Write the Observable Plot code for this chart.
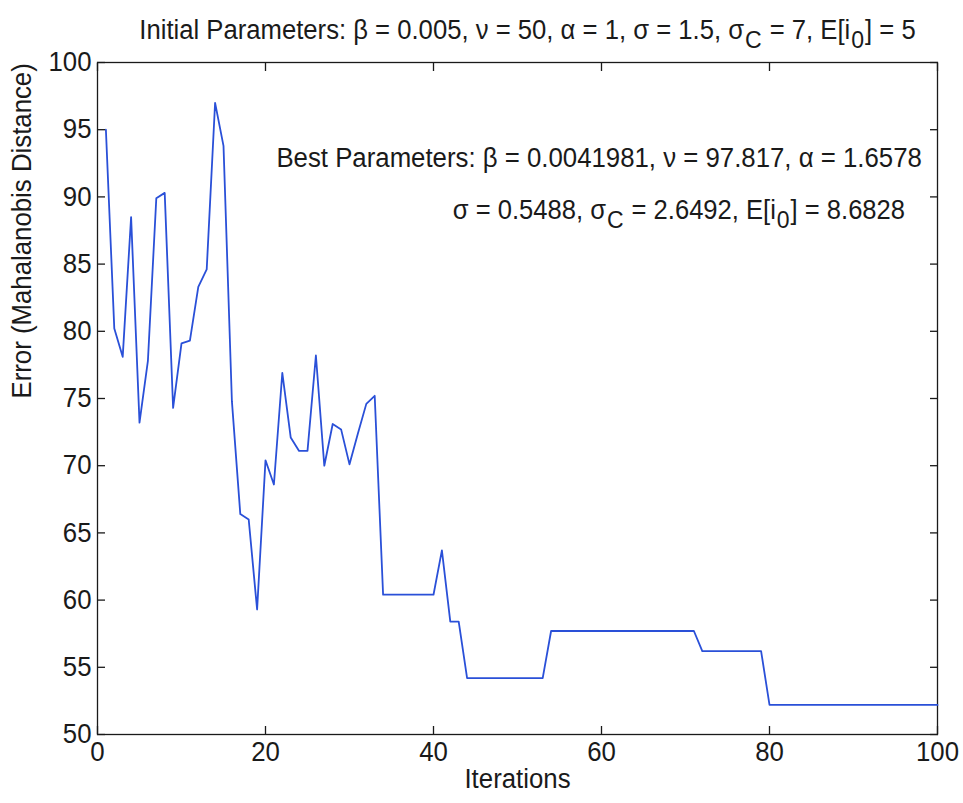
<!DOCTYPE html>
<html><head><meta charset="utf-8">
<script src="https://cdn.jsdelivr.net/npm/d3@7"></script>
<script src="https://cdn.jsdelivr.net/npm/@observablehq/plot@0.6"></script>
<style>
body{margin:0;background:#fff;}
</style></head><body><div id="chart"></div>
<script>
// Error per iteration (iterations 1..100)
const errors = [
  95.0, 80.2, 78.1, 88.5, 73.2, 77.8, 89.9, 90.3, 74.3, 79.1,
  79.3, 83.3, 84.6, 97.0, 93.8, 74.8, 66.4, 66.0, 59.3, 70.4,
  68.6, 76.9, 72.1, 71.1, 71.1, 78.2, 70.0, 73.1, 72.7, 70.1,
  72.4, 74.6, 75.2, 60.4, 60.4, 60.4, 60.4, 60.4, 60.4, 60.4,
  63.7, 58.4, 58.4, 54.2, 54.2, 54.2, 54.2, 54.2, 54.2, 54.2,
  54.2, 54.2, 54.2, 57.7, 57.7, 57.7, 57.7, 57.7, 57.7, 57.7,
  57.7, 57.7, 57.7, 57.7, 57.7, 57.7, 57.7, 57.7, 57.7, 57.7,
  57.7, 56.2, 56.2, 56.2, 56.2, 56.2, 56.2, 56.2, 56.2, 52.2,
  52.2, 52.2, 52.2, 52.2, 52.2, 52.2, 52.2, 52.2, 52.2, 52.2,
  52.2, 52.2, 52.2, 52.2, 52.2, 52.2, 52.2, 52.2, 52.2, 52.2
];
const xTicks = [0, 20, 40, 60, 80, 100];
const yTicks = [50, 55, 60, 65, 70, 75, 80, 85, 90, 95, 100];
const titleText = "Initial Parameters: β = 0.005, ν = 50, α = 1, σ = 1.5, σ_{C} = 7, E[i_{0}] = 5";
const bestLine1 = "Best Parameters: β = 0.0041981, ν = 97.817, α = 1.6578";
const bestLine2 = "σ = 0.5488, σ_{C} = 2.6492, E[i_{0}] = 8.6828";
const xLabel = "Iterations";
const yLabel = "Error (Mahalanobis Distance)";

const data = errors.map((e, i) => ({iter: i + 1, error: e}));
const fs = 27;
const squeeze = 0.955; // glyphs of the original are slightly narrower than Arial's
const font = '"Liberation Sans", Arial, Helvetica, sans-serif';
const ink = "#1a1a1a";
const blank = () => "";

const svg = Plot.plot({
  width: 963, height: 803,
  marginLeft: 97, marginRight: 26, marginTop: 62, marginBottom: 69,
  style: {fontFamily: font, fontSize: fs + "px", background: "#fff", color: ink},
  x: {domain: [0, 100], label: null},
  y: {domain: [50, 100], label: null},
  marks: [
    Plot.frame({stroke: ink, strokeWidth: 1.3}),
    Plot.axisX(xTicks, {anchor: "bottom", tickSize: 0, tickPadding: 7, fontSize: fs, label: null, tickFormat: d => String(d)}),
    Plot.axisX(xTicks, {anchor: "bottom", tickSize: -8, label: null, tickFormat: blank, strokeWidth: 1.3}),
    Plot.axisX(xTicks, {anchor: "top", tickSize: -8, label: null, tickFormat: blank, strokeWidth: 1.3}),
    Plot.axisY(yTicks, {anchor: "left", tickSize: 0, tickPadding: 6, fontSize: fs, label: null, tickFormat: d => String(d)}),
    Plot.axisY(yTicks, {anchor: "left", tickSize: -8, label: null, tickFormat: blank, strokeWidth: 1.3}),
    Plot.axisY(yTicks, {anchor: "right", tickSize: -8, label: null, tickFormat: blank, strokeWidth: 1.3}),
    Plot.lineY(data, {x: "iter", y: "error", stroke: "#2a50d8", strokeWidth: 1.8}),
    Plot.text([titleText], {frameAnchor: "top", dx: 10, dy: -43, fontSize: fs, fill: ink}),
    Plot.text([bestLine1], {x: 21.3, y: 92.85, textAnchor: "start", fontSize: fs, fill: ink}),
    Plot.text([bestLine2], {x: 42.3, y: 89.0, textAnchor: "start", fontSize: fs, fill: ink}),
    Plot.text([xLabel], {frameAnchor: "bottom", dy: 53, fontSize: fs, fill: ink}),
    Plot.text([yLabel], {frameAnchor: "left", dx: -75, rotate: -90, fontSize: fs, fill: ink})
  ]
});

// render subscripts written as _{...}
d3.select(svg).selectAll("text").each(function() {
  const t = this.textContent;
  if (!t.includes("_{")) return;
  const parts = t.split(/(_\{[^}]*\})/);
  this.textContent = "";
  let sub = false;
  for (const p of parts) {
    if (!p) continue;
    const m = p.match(/^_\{(.*)\}$/);
    const ts = d3.select(this).append("tspan");
    if (m) { ts.text(m[1]).attr("dy", 9).attr("dx", 1).attr("font-size", "0.9em"); sub = true; }
    else { ts.text(p); if (sub) { ts.attr("dy", -9).attr("dx", 1); sub = false; } }
  }
});

document.getElementById("chart").appendChild(svg);

// slightly condense the glyphs (same anchor, narrower run)
d3.select(svg).selectAll("text").each(function() {
  if (!this.textContent) return;
  const len = this.getComputedTextLength();
  if (len > 0) {
    this.setAttribute("textLength", (len * squeeze).toFixed(1));
    this.setAttribute("lengthAdjust", "spacingAndGlyphs");
  }
});
</script>
</body></html>
